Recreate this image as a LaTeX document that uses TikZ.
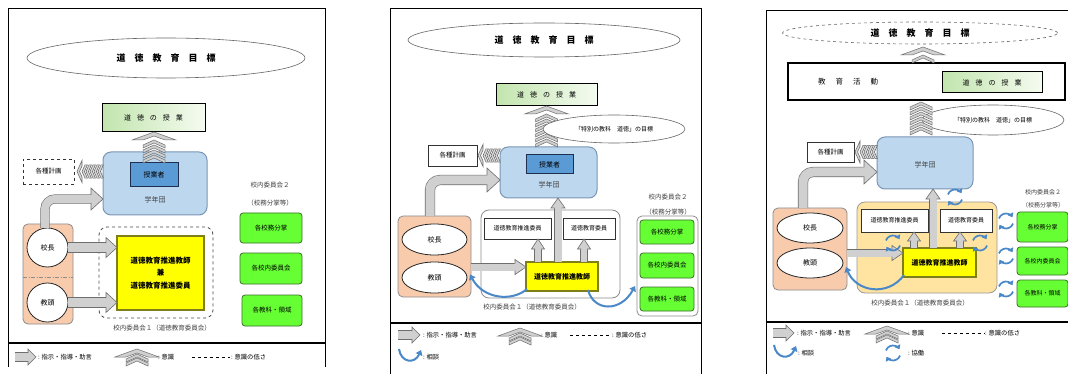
\documentclass[tikz,border=0pt]{standalone}
\usepackage{fontspec}
\setmainfont{Noto Sans CJK JP}
\usetikzlibrary{shapes.geometric,arrows.meta,calc}
\pgfdeclarelayer{paper}
\pgfsetlayers{paper,main}
\definecolor{afill}{HTML}{D0D0D0}
\definecolor{aedge}{HTML}{6E6E6E}
\definecolor{gakfill}{HTML}{BDD7EE}
\definecolor{gakedge}{HTML}{7A96B4}
\definecolor{jugfill}{HTML}{5B9BD5}
\definecolor{jugedge}{HTML}{1F2F4F}
\definecolor{salfill}{HTML}{F8CBAD}
\definecolor{saledge}{HTML}{8C8C8C}
\definecolor{grnfill}{HTML}{66FF33}
\definecolor{grnedge}{HTML}{3C6E28}
\definecolor{yelfill}{HTML}{FFFF00}
\definecolor{yeledge}{HTML}{7F7F1A}
\definecolor{orgfill}{HTML}{FFE3A0}
\definecolor{lessL}{HTML}{C2E5AE}
\definecolor{lessR}{HTML}{F5FBF0}
\definecolor{consultc}{HTML}{4A88C7}
\newcommand\fsz[1]{\fontsize{#1}{#1}\selectfont}
\tikzset{
 every node/.style={inner sep=0pt, outer sep=0pt},
 goalell/.style={ellipse, draw=black!60, line width=0.6pt, fill=white},
 lesson/.style={draw=black, line width=1pt, left color=lessL, right color=lessR, font=\fsz{7}},
 gak/.style={draw=gakedge, line width=1pt, fill=gakfill, rounded corners=8pt},
 jug/.style={draw=jugedge, line width=1pt, fill=jugfill, font=\fsz{7}},
 planbox/.style={draw=black!80, line width=0.8pt, fill=white, font=\fsz{6.5}},
 sal/.style={draw=saledge, line width=0.8pt, fill=salfill, rounded corners=5pt},
 person/.style={ellipse, draw=black!85, line width=0.8pt, fill=white, font=\fsz{7}},
 yel/.style={draw=yeledge, line width=1.3pt, fill=yelfill, font=\fsz{7}\bfseries, align=center},
 grn/.style={draw=grnedge, line width=0.8pt, fill=grnfill, rounded corners=3pt, font=\fsz{6.5}},
 wbox/.style={draw=black!80, line width=0.8pt, fill=white, font=\fsz{6}},
 lbl/.style={font=\fsz{6.5}, text=black!75},
 leg/.style={font=\fsz{6.3}, anchor=west},
 consult/.style={draw=consultc, line width=2pt, -{Triangle[length=5pt,width=7pt]}},
 coopline/.style={draw=consultc, line width=1.7pt, -{Triangle[length=4pt,width=6pt]}},
 chevpath/.style={fill=afill, draw=aedge, line width=0.5pt},
 chev/.pic={\filldraw[chevpath] (-11,5) -- (0,0) -- (11,5) -- (11,8) -- (0,3) -- (-11,8) -- cycle;},
 chevhead/.pic={\filldraw[chevpath] (-22,8) -- (0,0) -- (22,8) -- (11,8) -- (0,4) -- (-11,8) -- cycle;},
 wchev/.pic={\filldraw[fill=afill!80, draw=aedge, line width=0.6pt] (-11,5) -- (0,0) -- (11,5) -- (11,9) -- (0,4) -- (-11,9) -- cycle;},
 wchevhead/.pic={\filldraw[fill=afill!80, draw=aedge, line width=0.6pt] (-22,10) -- (0,0) -- (22,10) -- (11,10) -- (0,5) -- (-11,10) -- cycle;},
 coop/.pic={\draw[coopline] (200:7.5) arc[start angle=200,end angle=330,radius=7.5];
            \draw[coopline] (20:7.5) arc[start angle=20,end angle=150,radius=7.5];}
}
% gray head: tip, shaft half, head half, length, angle
\newcommand\grayhead[5]{%
 \begin{scope}[shift={(#1)}, rotate=#5]
 \fill[afill] (-#4-1,-#2) -- (-#4,-#2) -- (-#4,-#3) -- (0,0) -- (-#4,#3) -- (-#4,#2) -- (-#4-1,#2) -- cycle;
 \draw[aedge, line width=0.6pt, line join=miter] (-#4,-#2) -- (-#4,-#3) -- (0,0) -- (-#4,#3) -- (-#4,#2);
 \end{scope}}
% straight gray arrow: start, tip, shaft half, head half, head length, angle
\newcommand\grayarrow[6]{%
 \draw[line width=2*#3pt+1.2pt, draw=aedge] (#1) -- ($(#2)!#5pt-0.6pt!(#1)$);
 \draw[line width=2*#3pt, draw=afill] (#1) -- ($(#2)!#5pt-0.6pt!(#1)$);
 \grayhead{#2}{#3}{#4}{#5}{#6}}
% L shaped gray arrow (up then right)
\newcommand\grayarrowL[5]{%
 \draw[line width=2*#3pt+1.2pt, draw=aedge, rounded corners=10pt] (#1) |- ($(#2)+(-#5+0.6,0)$);
 \draw[line width=2*#3pt, draw=afill, rounded corners=10pt] (#1) |- ($(#2)+(-#5+0.6,0)$);
 \grayhead{#2}{#3}{#4}{#5}{0}}
% awareness: bottom point, n chevrons (stack), then head
\newcommand\awarestack[2]{%
 \foreach \k in {1,...,#2} {\pic at ($(#1)+(0,{-3-5*\k})$) {chev};}}
\newcommand\awarehead[2]{%
 \pic at ($(#1)+(0,{-11-5*#2})$) {chevhead};}
% weak awareness, pointing left from source point
\newcommand\weakarrow[2]{%
 \foreach \k in {1,...,#2} {\pic[rotate=90, scale=0.6] at ($(#1)+({-1-4*\k},0)$) {wchev};}
 \pic[rotate=90, scale=0.5] at ($(#1)+({-6-4*#2},0)$) {wchevhead};}
\begin{document}
\begin{tikzpicture}[x=1pt,y=-1pt]
\begin{pgfonlayer}{paper}
\fill[white] (0,0) rectangle (1068,374);
\end{pgfonlayer}
\useasboundingbox (0,0) rectangle (1068,374);

%================ Panel 1
\draw[line width=0.8pt] (8,367) -- (8,8) -- (325,8) -- (325,367);
\draw[line width=1.6pt] (8,343) -- (325,343);
\node[goalell, minimum width=278, minimum height=40] (goal1) at (166,58) {\fsz{9}\bfseries 道\hspace{9pt}徳\hspace{9pt}教\hspace{9pt}育\hspace{9pt}目\hspace{9pt}標};
\node[lesson, minimum width=103, minimum height=28] (les1) at (153.5,118) {道\hspace{6pt}徳\hspace{6pt}の\hspace{6pt}授\hspace{6pt}業};
\node[gak, minimum width=104, minimum height=63] (gak1) at (155,183.5) {};
\node[jug, minimum width=48, minimum height=24] (jug1) at (154,175) {授業者};
\node[lbl, font=\fsz{7}] (gakl1) at (155,200) {学年団};
\awarestack{jug1.north}{4}
\awarehead{jug1.north}{4}
\node[planbox, dashed, minimum width=51, minimum height=25] (plan1) at (48.5,171.5) {各種計画};
\coordinate (w1) at (gak1.west |- plan1.east);
\weakarrow{w1}{5}
\node[sal, minimum width=50, minimum height=100] (sal1) at (48,274) {};
\draw[saledge, line width=0.8pt, dash pattern=on 4pt off 1.5pt on 1pt off 1.5pt] ($(sal1.west)+(0,3)$) -- ($(sal1.east)+(0,3)$);
\node[person, minimum width=41, minimum height=39] (kocho1) at (47.5,247.5) {校長};
\node[person, minimum width=41, minimum height=39] (kyoto1) at (47.5,302.5) {教頭};
\coordinate (L1s) at ($(kocho1.north)+(-2.5,0)$);
\coordinate (L1t) at ($(gak1.west)+(0,15.5)$);
\grayarrowL{L1s}{L1t}{4}{11}{12}
\node[draw=black!70, dashed, line width=0.8pt, rounded corners=8pt, minimum width=114, minimum height=91] (com1) at (156,272.5) {};
\node[yel, minimum width=87, minimum height=74, font=\fsz{7.5}\bfseries] (yel1) at (160.5,273) {道徳教育推進教師\\[5pt]兼\\[5pt]道徳教育推進委員};
\coordinate (t1a) at (yel1.west |- kocho1.east);
\grayarrow{kocho1.east}{t1a}{4.5}{10}{11}{0}
\coordinate (t1b) at (yel1.west |- kyoto1.east);
\grayarrow{kyoto1.east}{t1b}{4.5}{10}{11}{0}
\node[lbl] (c1l) at (162,328) {校内委員会１（道徳教育委員会）};
\node[lbl] (c2la) at (270,185) {校内委員会２};
\node[lbl] (c2lb) at (270,203) {（校務分掌等）};
\node[grn, minimum width=62, minimum height=30] (g1a) at (271,228) {各校務分掌};
\node[grn, minimum width=62, minimum height=31] (g1b) at (271,268.5) {各校内委員会};
\node[grn, minimum width=60, minimum height=31] (g1c) at (272,310.5) {各教科・領域};
% legend 1
\coordinate (lg1a) at (15,357); \coordinate (lg1b) at (36,357);
\grayarrow{lg1a}{lg1b}{4}{8}{8}{0}
\node[leg] (lt1a) at (38,357) {: 指示・指導・助言};
\pic at (137,349) {chevhead}; \pic at (137,354) {chev}; \pic at (137,358) {chev};
\node[leg] (lt1b) at (158,357) {: 意識};
\draw[dashed, line width=0.9pt] (192,357) -- (230,357);
\node[leg] (lt1c) at (231,357) {: 意識の低さ};

%================ Panel 2
\draw[line width=0.8pt] (390,374) -- (390,8) -- (701,8) -- (701,374);
\draw[line width=1.6pt] (390,323) -- (701,323);
\node[goalell, minimum width=272, minimum height=34] (goal2) at (544,40) {\fsz{9}\bfseries 道\hspace{9pt}徳\hspace{9pt}教\hspace{9pt}育\hspace{9pt}目\hspace{9pt}標};
\node[lesson, minimum width=101, minimum height=22] (les2) at (546.5,95) {道\hspace{6pt}徳\hspace{6pt}の\hspace{6pt}授\hspace{6pt}業};
\node[gak, minimum width=97, minimum height=51] (gak2) at (548.5,172.5) {};
\coordinate (aw2) at ($(gak2.north)+(-2,0)$);
\awarestack{aw2}{6}
\awarehead{aw2}{6}
\node[goalell, minimum width=142, minimum height=28, font=\fsz{6}] (ell2) at (614,129) {「特別の教科　道徳」の目標};
\node[jug, minimum width=47, minimum height=19] (jug2) at (549.5,164.5) {授業者};
\node[lbl, font=\fsz{7}] (gakl2) at (549,185) {学年団};
\node[planbox, minimum width=49, minimum height=21] (plan2) at (452.5,155.5) {各種計画};
\coordinate (w2) at (gak2.west |- plan2.east);
\weakarrow{w2}{4}
\node[sal, minimum width=73, minimum height=81] (sal2) at (434.5,256.5) {};
\node[person, minimum width=65, minimum height=31] (kocho2) at (434.5,239.5) {校長};
\node[person, minimum width=65, minimum height=31] (kyoto2) at (434.5,277.5) {教頭};
\coordinate (L2s) at ($(sal2.north)+(-4.5,0)$);
\coordinate (L2t) at ($(gak2.west)+(0,7.5)$);
\grayarrowL{L2s}{L2t}{4.5}{12}{13}
\node[draw=black!45, line width=0.8pt, rounded corners=8pt, minimum width=139, minimum height=88] (com2) at (550.5,254) {};
\node[wbox, minimum width=67, minimum height=21] (sui2) at (517.5,228.5) {道徳教育推進委員};
\node[wbox, minimum width=52, minimum height=21] (iin2) at (589,228.5) {道徳教育委員};
\node[yel, minimum width=72, minimum height=29] (yel2) at (562,276.5) {道徳教育推進教師};
\coordinate (a2s) at ($(sal2.east)+(0,10.5)$);
\coordinate (a2t) at (yel2.west |- a2s);
\grayarrow{a2s}{a2t}{3.5}{7.5}{11}{0}
\coordinate (u2a) at ($(yel2.north)+(-24,0)$); \coordinate (u2at) at (u2a |- sui2.south);
\grayarrow{u2a}{u2at}{3}{6.5}{10}{90}
\coordinate (u2b) at ($(yel2.north)+(22,0)$); \coordinate (u2bt) at (u2b |- iin2.south);
\grayarrow{u2b}{u2bt}{3}{6.5}{10}{90}
\coordinate (u2c) at ($(yel2.north)+(-4,0)$); \coordinate (u2ct) at (u2c |- gak2.south);
\grayarrow{u2c}{u2ct}{3.5}{7}{10}{90}
\node[lbl] (c1l2) at (532,307) {校内委員会１（道徳教育委員会）};
\node[lbl] (c2la2) at (668,197) {校内委員会２};
\node[lbl] (c2lb2) at (668,212) {（校務分掌等）};
\node[draw=black!45, line width=0.8pt, rounded corners=5pt, minimum width=61, minimum height=100] (out2) at (667.5,266) {};
\node[grn, minimum width=54, minimum height=24] (g2a) at (667,232) {各校務分掌};
\node[grn, minimum width=54, minimum height=25] (g2b) at (667,265.5) {各校内委員会};
\node[grn, minimum width=54, minimum height=24] (g2c) at (667,299) {各教科・領域};
\coordinate (cs2a) at ($(yel2.south west)+(1,-2)$);
\coordinate (ce2a) at ($(kyoto2.east)+(3,-3)$);
\draw[consult] (cs2a) .. controls (512,302) and (483,299) .. (ce2a);
\coordinate (cs2b) at ($(yel2.south east)+(-10,-1)$);
\coordinate (ce2b) at ($(out2.west)+(-2,20)$);
\draw[consult] (cs2b) .. controls (594,312) and (621,312) .. (ce2b);
% legend 2
\coordinate (lg2a) at (398,335); \coordinate (lg2b) at (420,335);
\grayarrow{lg2a}{lg2b}{4}{8}{8}{0}
\node[leg] (lt2a) at (423,335) {: 指示・指導・助言};
\pic at (520,328) {chevhead}; \pic at (520,333) {chev}; \pic at (520,337) {chev};
\node[leg] (lt2b) at (541,335) {: 意識};
\draw[dashed, line width=0.9pt] (570,335) -- (612,335);
\node[leg] (lt2c) at (612,335) {: 意識の低さ};
\coordinate (lc2a) at (399,349); \coordinate (lc2b) at (421,350);
\draw[consult] (lc2a) .. controls (401,363) and (415,364) .. (lc2b);
\node[leg] (lt2d) at (423,357) {: 相談};

%================ Panel 3
\draw[line width=0.8pt] (766,374) -- (766,10) -- (1068,10);
\draw[line width=1.6pt] (766,322) -- (1068,322);
\node[goalell, dashed, minimum width=275, minimum height=22] (goal3) at (920,33) {\fsz{9}\bfseries 道\hspace{9pt}徳\hspace{9pt}教\hspace{9pt}育\hspace{9pt}目\hspace{9pt}標};
\node[draw=black, line width=2pt, fill=white, minimum width=277, minimum height=37] (kyo3) at (926.5,81.5) {};
\coordinate (aw3) at ($(kyo3.north)+(-3.5,0)$);
\awarestack{aw3}{1}
\awarehead{aw3}{1}
\node[font=\fsz{7.5}] (kyot3) at (848,82) {教\hspace{10pt}育\hspace{10pt}活\hspace{10pt}動};
\node[lesson, minimum width=100, minimum height=21] (les3) at (992,82.5) {道\hspace{6pt}徳\hspace{6pt}の\hspace{6pt}授\hspace{6pt}業};
\node[gak, minimum width=96, minimum height=52] (gak3) at (925,163) {};
\node[goalell, minimum width=142, minimum height=30, font=\fsz{6}] (ell3) at (993,120) {「特別の教科　道徳」の目標};
\foreach \yy in {102,107,112,117,122,127} {
  \filldraw[chevpath] (910,\yy+5) -- (921,\yy) -- (932,\yy+5) -- (932,\yy+8) -- (921,\yy+3) -- (910,\yy+8) -- cycle;
}
\node[lbl, font=\fsz{7}] (gakl3) at (925,165) {学年団};
\node[planbox, minimum width=47, minimum height=20] (plan3) at (830.5,152) {各種計画};
\coordinate (w3) at (gak3.west |- plan3.east);
\weakarrow{w3}{4}
\node[sal, minimum width=74, minimum height=82] (sal3) at (810,249) {};
\node[person, minimum width=66, minimum height=30] (kocho3) at (810,228) {校長};
\node[person, minimum width=66, minimum height=30] (kyoto3) at (810,263) {教頭};
\coordinate (L3s) at ($(sal3.north)+(-7,0)$);
\coordinate (L3t) at ($(gak3.west)+(0,9)$);
\grayarrowL{L3s}{L3t}{4.5}{12}{13}
\node[draw=black!40, line width=0.8pt, fill=orgfill, rounded corners=8pt, minimum width=140, minimum height=91] (com3) at (927,247.5) {};
\node[wbox, minimum width=67, minimum height=23] (sui3) at (894.5,220.5) {道徳教育推進委員};
\node[wbox, minimum width=52, minimum height=23] (iin3) at (966,220.5) {道徳教育委員};
\node[yel, minimum width=73, minimum height=29] (yel3) at (939.5,262.5) {道徳教育推進教師};
\coordinate (a3s) at ($(sal3.east)+(0,4)$);
\coordinate (a3t) at (yel3.west |- a3s);
\grayarrow{a3s}{a3t}{3.5}{7.5}{11}{0}
\coordinate (u3a) at ($(yel3.north)+(-25.5,0)$); \coordinate (u3at) at (u3a |- sui3.south);
\grayarrow{u3a}{u3at}{3}{6.5}{9}{90}
\coordinate (u3b) at ($(yel3.north)+(20.5,0)$); \coordinate (u3bt) at (u3b |- iin3.south);
\grayarrow{u3b}{u3bt}{3}{6.5}{9}{90}
\coordinate (u3c) at ($(yel3.north)+(-6.5,0)$); \coordinate (u3ct) at (u3c |- gak3.south);
\grayarrow{u3c}{u3ct}{3.5}{7}{10}{90}
\pic at (955,197) {coop};
\pic at (893,243) {coop};
\pic at (980,243) {coop};
\pic at (1006,221) {coop};
\pic at (1006,256) {coop};
\pic at (1006,289) {coop};
\coordinate (cs3) at ($(yel3.south west)+(1,-2)$);
\coordinate (ce3) at ($(kyoto3.east)+(3,4)$);
\draw[consult] (cs3) .. controls (888,297) and (856,292) .. (ce3);
\node[lbl] (c1l3) at (920,303) {校内委員会１（道徳教育委員会）};
\node[lbl, font=\fsz{6}] (c2la3) at (1043,192) {校内委員会２};
\node[lbl, font=\fsz{6}] (c2lb3) at (1043,205) {（校務分掌等）};
\node[grn, font=\fsz{6}, minimum width=51, minimum height=30] (g3a) at (1042.5,227) {各校務分掌};
\node[grn, font=\fsz{6}, minimum width=51, minimum height=28] (g3b) at (1042.5,261) {各校内委員会};
\node[grn, font=\fsz{6}, minimum width=51, minimum height=27] (g3c) at (1042.5,293.5) {各教科・領域};
% legend 3
\coordinate (lg3a) at (773,333); \coordinate (lg3b) at (794,333);
\grayarrow{lg3a}{lg3b}{4}{8}{8}{0}
\node[leg] (lt3a) at (797,333) {: 指示・指導・助言};
\pic at (887,326) {chevhead}; \pic at (887,331) {chev}; \pic at (887,335) {chev};
\node[leg] (lt3b) at (908,333) {: 意識};
\draw[dashed, line width=0.9pt] (942,333) -- (985,333);
\node[leg] (lt3c) at (985,333) {: 意識の低さ};
\coordinate (lc3a) at (774,345); \coordinate (lc3b) at (796,346);
\draw[consult] (lc3a) .. controls (776,359) and (790,360) .. (lc3b);
\node[leg] (lt3d) at (798,353) {: 相談};
\pic at (893,353) {coop};
\node[leg] (lt3e) at (908,353) {: 協働};
\end{tikzpicture}
\end{document}
